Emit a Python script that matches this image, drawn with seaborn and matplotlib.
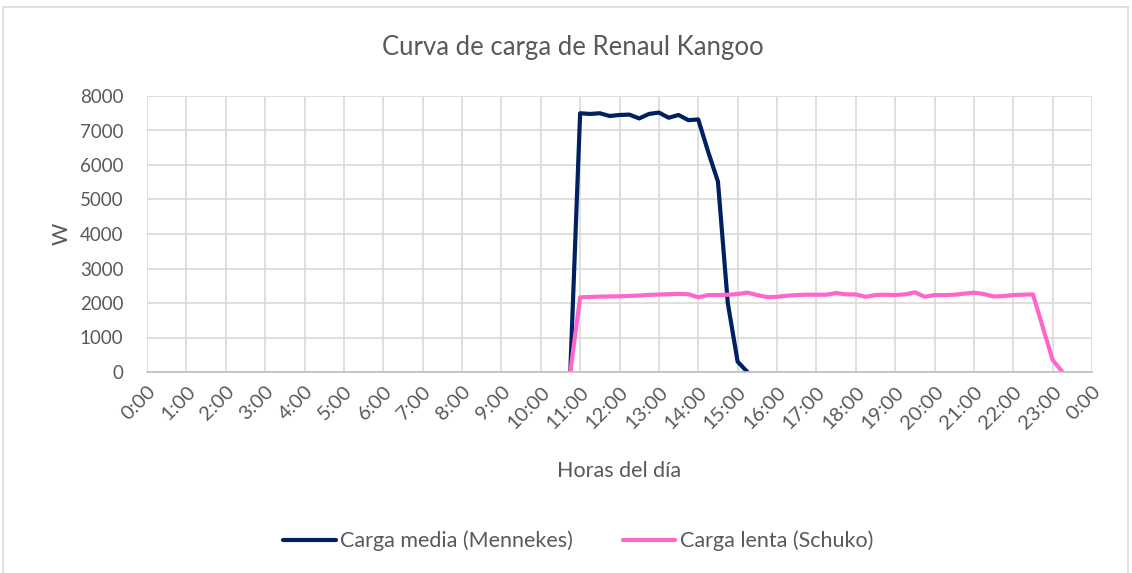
import matplotlib
matplotlib.use("Agg")
import matplotlib.pyplot as plt
import matplotlib.patches as mpatches
import seaborn as sns
import pandas as pd

title = "Curva de carga de Renaul Kangoo"
x_label = "Horas del día"
y_label = "W"
series_names = ["Carga media (Mennekes)", "Carga lenta (Schuko)"]
tick_labels = ["0:00", "1:00", "2:00", "3:00", "4:00", "5:00", "6:00", "7:00", "8:00",
               "9:00", "10:00", "11:00", "12:00", "13:00", "14:00", "15:00", "16:00",
               "17:00", "18:00", "19:00", "20:00", "21:00", "22:00", "23:00", "0:00"]
y_ticks = [0, 1000, 2000, 3000, 4000, 5000, 6000, 7000, 8000]

media_times = ["10:45", "11:00", "11:15", "11:30", "11:45", "12:00", "12:15", "12:30",
               "12:45", "13:00", "13:15", "13:30", "13:45", "14:00", "14:15", "14:30",
               "14:45", "15:00", "15:15"]
media_values = [0, 7500, 7480, 7500, 7420, 7450, 7460, 7350, 7480, 7520, 7370, 7450,
                7300, 7320, 6390, 5520, 2000, 300, 0]

lenta_times = ["10:45", "11:00", "11:15", "11:30", "11:45", "12:00", "12:15", "12:30",
               "12:45", "13:00", "13:15", "13:30", "13:45", "14:00", "14:15", "14:30",
               "14:45", "15:00", "15:15", "15:30", "15:45", "16:00", "16:15", "16:30",
               "16:45", "17:00", "17:15", "17:30", "17:45", "18:00", "18:15", "18:30",
               "18:45", "19:00", "19:15", "19:30", "19:45", "20:00", "20:15", "20:30",
               "20:45", "21:00", "21:15", "21:30", "21:45", "22:00", "22:15", "22:30",
               "22:45", "23:00", "23:15"]
lenta_values = [0, 2165, 2175, 2185, 2190, 2195, 2205, 2215, 2235, 2245, 2255, 2265,
                2255, 2165, 2230, 2230, 2240, 2260, 2300, 2230, 2170, 2180, 2210, 2230,
                2240, 2240, 2240, 2290, 2250, 2250, 2180, 2230, 2240, 2230, 2250, 2310,
                2180, 2230, 2230, 2240, 2270, 2300, 2260, 2190, 2200, 2230, 2240, 2250,
                1300, 350, 0]

colors = ["#002060", "#FF66CC"]


def to_hours(t):
    h, m = t.split(":")
    return int(h) + int(m) / 60.0


df = pd.concat([
    pd.DataFrame({"hora": [to_hours(t) for t in media_times], "W": media_values,
                  "serie": series_names[0]}),
    pd.DataFrame({"hora": [to_hours(t) for t in lenta_times], "W": lenta_values,
                  "serie": series_names[1]}),
], ignore_index=True)

sns.set_theme(style="white")
plt.rcParams["font.family"] = ["Lato", "DejaVu Sans"]
text_color = "#595959"

W, H = 1132, 573
fig = plt.figure(figsize=(W / 100, H / 100), dpi=100)
ax = fig.add_axes([147 / W, 1 - 372 / H, (1092 - 147) / W, (372 - 96) / H])

sns.lineplot(data=df, x="hora", y="W", hue="serie", hue_order=series_names,
             palette=colors, linewidth=3.0, ax=ax, legend=False, sort=False)

ax.set_xlim(0, 24)
ax.set_ylim(0, 8000)
ax.set_xticks(range(25))
ax.set_xticklabels(tick_labels, rotation=45, ha="right", rotation_mode="anchor",
                   fontsize=14.5, color=text_color)
ax.set_yticks(y_ticks)
ax.set_yticklabels([str(v) for v in y_ticks], fontsize=13.5, color=text_color)
ax.tick_params(axis="both", length=0)
ax.tick_params(axis="y", pad=17)
ax.tick_params(axis="x", pad=8)
ax.grid(True, color="#D9D9D9", linewidth=1.2)
ax.set_axisbelow(True)
for s in ["top", "right", "left"]:
    ax.spines[s].set_visible(False)
ax.spines["bottom"].set_color("#BFBFBF")
ax.spines["bottom"].set_linewidth(1.2)
ax.set_xlabel("")
ax.set_ylabel("")

fig.text(573 / W, 1 - 47 / H, title, ha="center", va="center", fontsize=18.5,
         color=text_color)
fig.text(619.5 / W, 1 - 471 / H, x_label, ha="center", va="center", fontsize=15.5,
         color=text_color)
fig.text(62 / W, 1 - 234 / H, y_label, ha="center", va="center", fontsize=15.5,
         color=text_color, rotation=90)

handles = [plt.Line2D([], [], color=c, linewidth=3.0) for c in colors]
leg = fig.legend(handles, series_names, loc="center", bbox_to_anchor=(578 / W, 1 - 541 / H),
                 ncol=2, frameon=False, fontsize=15.5, handlelength=2.45,
                 handletextpad=0.2, columnspacing=2.3)
for t in leg.get_texts():
    t.set_color(text_color)

border = mpatches.Rectangle((3 / W, -0.02), (1128 - 3) / W, 1 - 7 / H + 0.02,
                            transform=fig.transFigure, fill=False,
                            edgecolor="#D9D9D9", linewidth=1.2)
fig.patches.append(border)

fig.savefig("out.png", dpi=100)
